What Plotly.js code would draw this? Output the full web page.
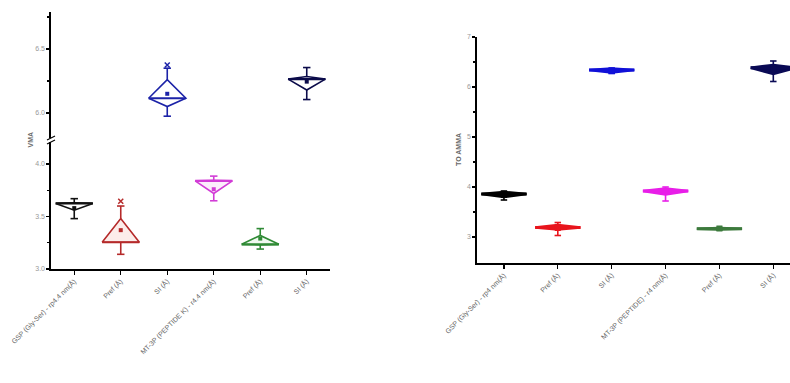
<!DOCTYPE html>
<html>
<head>
<meta charset="utf-8">
<script src="https://cdn.plot.ly/plotly-3.0.1.min.js"></script>
<style>html,body{margin:0;padding:0;background:#fff;}#chart{width:790px;height:383px;}</style>
</head>
<body>
<div id="chart"></div>
<script>
// ---- categories / tick labels ----
const categories = [
  "GSP (Gly-Ser) - rp4.4 nm(Å)",
  "Pref (Å)",
  "SI (Å)",
  "MT-3P (PEPTIDE K) - r4.4 nm(Å)",
  "Pref (Å)",
  "SI (Å)"
];
const categoriesR = [
  "GSP (Gly-Ser) - rp4 nm(Å)",
  "Pref (Å)",
  "SI (Å)",
  "MT-3P (PEPTIDE) - r4 nm(Å)",
  "Pref (Å)",
  "SI (Å)"
];

// ---- left panel (VMA) ----
const L_median = [3.625, 3.255, 6.115, 3.84, 3.235, 6.265];
const L_q1     = [3.56, 3.255, 6.05, 3.72, 3.23, 6.18];
const L_q3     = [3.63, 3.48, 6.26, 3.845, 3.32, 6.285];
const L_lower  = [3.48, 3.14, 5.975, 3.65, 3.19, 6.105];
const L_upper  = [3.67, 3.60, 6.35, 3.885, 3.385, 6.355];
const L_mean   = [3.58, 3.37, 6.15, 3.76, 3.29, 6.245];
const L_max    = [null, 3.645, 6.375, null, null, null];
const L_colors = ["#111111", "#b52a2a", "#1c23a8", "#d23cd6", "#2f8a35", "#0b0b4a"];
const L_fill   = ["rgba(255,255,255,0)", "rgba(250,225,220,0.6)", "rgba(255,255,255,0)", "rgba(250,220,250,0.5)", "rgba(225,245,225,0.5)", "rgba(255,255,255,0)"];

// ---- right panel (TO AMMA) ----
const R_median = [3.86, 3.19, 6.34, 3.92, 3.165, 6.385];
const R_q1     = [3.80, 3.15, 6.29, 3.85, 3.15, 6.26];
const R_q3     = [3.90, 3.24, 6.37, 3.97, 3.18, 6.44];
const R_lower  = [3.74, 3.03, 6.27, 3.72, 3.14, 6.11];
const R_upper  = [3.92, 3.29, 6.38, 4.00, 3.19, 6.52];
const R_mean   = [3.84, 3.18, 6.32, 3.90, 3.17, 6.37];
const R_colors = ["#000000", "#e8141c", "#1010d8", "#e81ee8", "#3c7a3c", "#0a0a55"];

const traces = [];
const idx = categories.map((_, i) => i);

function addPanel(med, q1, q3, lo, hi, mean, mx, colors, fills, xa, yaFor, halfW, capW, filled) {
  idx.forEach(i => {
    const ya = yaFor(med[i]);
    traces.push({
      type: "scatter", mode: "lines", xaxis: xa, yaxis: ya, showlegend: false, hoverinfo: "skip",
      x: [i - halfW, i, i + halfW, i, i - halfW],
      y: [med[i], q3[i], med[i], q1[i], med[i]],
      fill: "toself", fillcolor: filled ? colors[i] : fills[i],
      line: {color: colors[i], width: filled ? 2.5 : 1.6}
    });
    traces.push({
      type: "scatter", mode: "lines", xaxis: xa, yaxis: ya, showlegend: false, hoverinfo: "skip",
      x: [i - halfW, i + halfW], y: [med[i], med[i]],
      line: {color: colors[i], width: filled ? 3 : 2.2}
    });
    traces.push({
      type: "scatter", mode: "lines", xaxis: xa, yaxis: ya, showlegend: false, hoverinfo: "skip",
      x: [i, i, null, i, i, null, i - capW, i + capW, null, i - capW, i + capW],
      y: [q1[i], lo[i], null, q3[i], hi[i], null, lo[i], lo[i], null, hi[i], hi[i]],
      line: {color: colors[i], width: 1.6}
    });
    traces.push({
      type: "scatter", mode: "markers", xaxis: xa, yaxis: ya, showlegend: false, hoverinfo: "skip",
      x: [i], y: [mean[i]],
      marker: {symbol: "square", size: filled ? 6 : 4, color: colors[i]}
    });
    if (mx && mx[i] != null) {
      traces.push({
        type: "scatter", mode: "markers", xaxis: xa, yaxis: ya, showlegend: false, hoverinfo: "skip",
        x: [i], y: [mx[i]],
        marker: {symbol: "x-thin", size: 5, color: colors[i], line: {width: 1.5, color: colors[i]}}
      });
    }
  });
}

addPanel(L_median, L_q1, L_q3, L_lower, L_upper, L_mean, L_max, L_colors, L_fill,
         "x", v => (v > 5 ? "y2" : "y"), 0.4, 0.08, false);
addPanel(R_median, R_q1, R_q3, R_lower, R_upper, R_mean, null, R_colors, null,
         "x3", v => "y3", 0.42, 0.06, true);

const FAM = "Liberation Sans, Arial, sans-serif";
const yTickFont = {family: FAM, size: 7, color: "#999"};
const xTickFont = {family: FAM, size: 7, color: "#666"};
const axisBase = {
  showline: true, linecolor: "#000", linewidth: 1.6, showgrid: false, zeroline: false,
  ticks: "outside", ticklen: 3, tickwidth: 1.2, tickcolor: "#000", tickfont: yTickFont
};
const H = 383, W = 790;
const fy = p => (H - p) / H;
const fx = p => p / W;

const layout = {
  width: W, height: H,
  margin: {l: 0, r: 0, t: 0, b: 0},
  paper_bgcolor: "#fff", plot_bgcolor: "rgba(0,0,0,0)",
  font: {family: FAM},
  showlegend: false,
  xaxis: Object.assign({}, axisBase, {
    domain: [fx(51), fx(330)], anchor: "y", range: [-0.5, 5.5],
    tickvals: idx, ticktext: categories, tickangle: -45, ticklen: 4, tickfont: xTickFont
  }),
  yaxis: Object.assign({}, axisBase, {
    domain: [fy(269), fy(140)], anchor: "x", range: [3.0, 4.229],
    tickvals: [3.0, 3.5, 4.0], ticktext: ["3.0", "3.5", "4.0"],
    minor: {tickvals: [3.25, 3.75], ticklen: 2, tickcolor: "#000", ticks: "outside"}
  }),
  yaxis2: Object.assign({}, axisBase, {
    domain: [fy(140), fy(12)], anchor: "x", range: [5.789, 6.789],
    tickvals: [6.0, 6.5], ticktext: ["6.0", "6.5"],
    minor: {tickvals: [6.25, 6.75], ticklen: 2, tickcolor: "#000", ticks: "outside"}
  }),
  xaxis3: Object.assign({}, axisBase, {
    domain: [fx(477), 1], anchor: "y3", range: [-0.5, 5.31],
    tickvals: idx, ticktext: categoriesR, tickangle: -45, ticklen: 4, tickfont: xTickFont
  }),
  yaxis3: Object.assign({}, axisBase, {
    domain: [fy(263), fy(37)], anchor: "x3", range: [2.48, 7.0],
    tickvals: [3, 4, 5, 6, 7], ticktext: ["3", "4", "5", "6", "7"],
    minor: {tickvals: [3.5, 4.5, 5.5, 6.5], ticklen: 2, tickcolor: "#000", ticks: "outside"}
  }),
  annotations: [
    {text: "VMA", xref: "paper", yref: "paper", x: fx(24), y: fy(140), textangle: -90,
     showarrow: false, font: {size: 7, color: "#666", family: FAM, weight: "bold"}},
    {text: "TO AMMA", xref: "paper", yref: "paper", x: fx(459), y: fy(150), textangle: -90,
     showarrow: false, font: {size: 7, color: "#666", family: FAM, weight: "bold"}}
  ],
  shapes: [
    {type: "rect", xref: "paper", yref: "paper", x0: fx(48), x1: fx(54), y0: fy(142), y1: fy(138),
     fillcolor: "#fff", line: {width: 0}},
    {type: "line", xref: "paper", yref: "paper", x0: fx(47), y0: fy(144), x1: fx(55), y1: fy(140),
     line: {color: "#000", width: 1.2}},
    {type: "line", xref: "paper", yref: "paper", x0: fx(47), y0: fy(140), x1: fx(55), y1: fy(136),
     line: {color: "#000", width: 1.2}}
  ]
};

Plotly.newPlot("chart", traces, layout, {staticPlot: true, displayModeBar: false});
</script>
</body>
</html>
